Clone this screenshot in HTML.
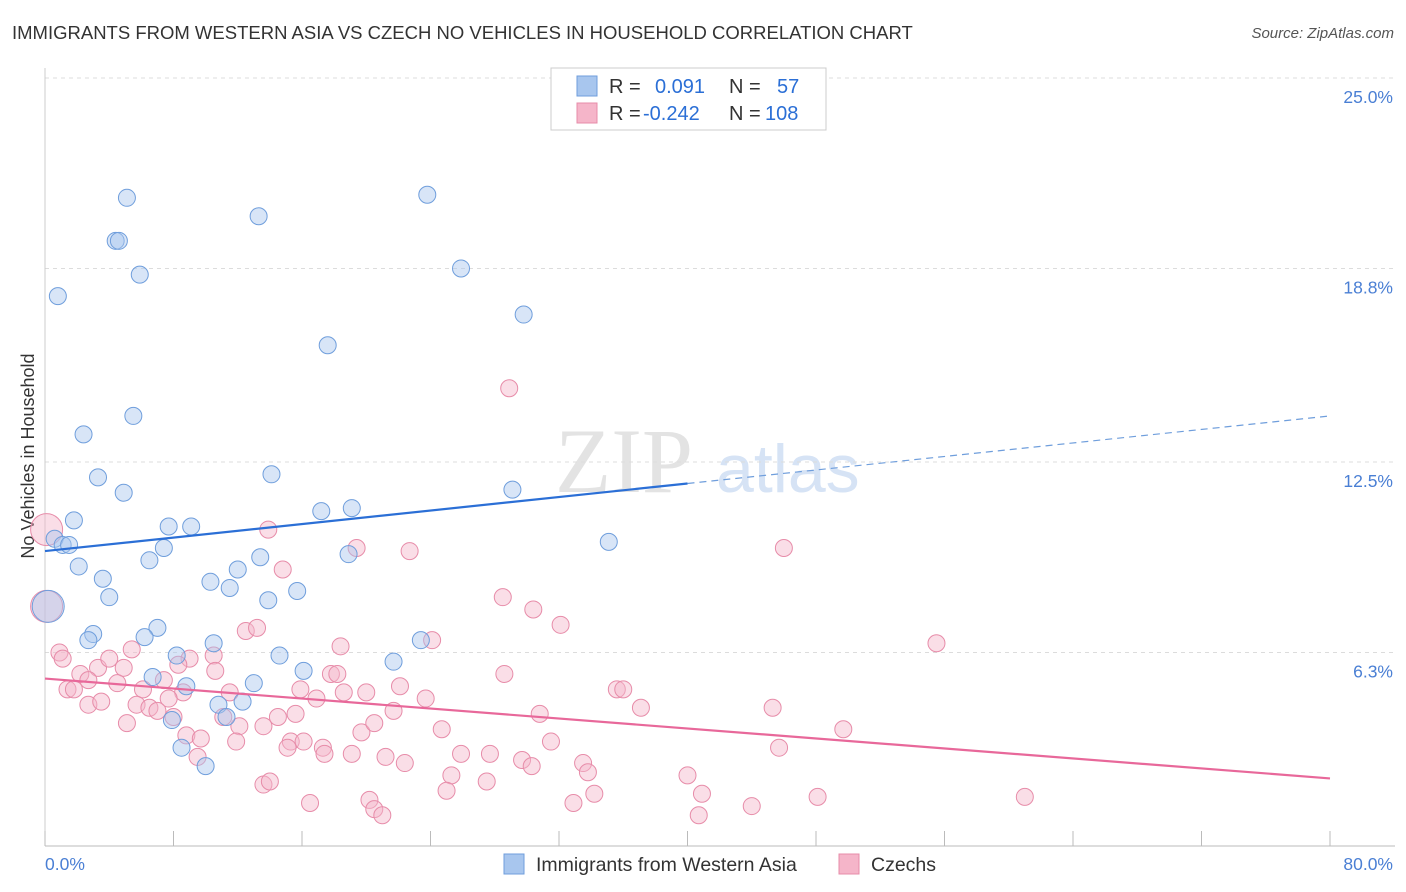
<!DOCTYPE html>
<html><head><meta charset="utf-8">
<style>
body{margin:0;background:#fff;font-family:"Liberation Sans",sans-serif;}
#wrap{position:relative;width:1406px;height:892px;overflow:hidden;}
.title{position:absolute;left:12px;top:22px;font-size:18.5px;color:#333;}
.source{position:absolute;right:12px;top:25px;font-size:15px;color:#555;font-style:italic;}
</style></head>
<body>
<div id="wrap">
<div class="title">IMMIGRANTS FROM WESTERN ASIA VS CZECH NO VEHICLES IN HOUSEHOLD CORRELATION CHART</div>
<div class="source">Source: ZipAtlas.com</div>
<svg id="svg" width="1406" height="892" style="position:absolute;left:0;top:0"></svg>
</div>
<script>
const yTicks=[6.3,12.5,18.8,25.0];
const yTickLabels=["6.3%","12.5%","18.8%","25.0%"];
const xTickLabels=["0.0%","80.0%"];
const blueX=[5.1,13.3,23.8,4.4,4.6,5.9,0.8,25.9,29.8,17.6,5.5,2.4,3.3,4.9,14.1,29.1,1.8,17.2,19.1,7.7,9.1,0.6,1.1,1.5,35.1,7.4,6.5,2.1,13.4,18.9,12.0,3.6,10.3,11.5,15.7,4.0,13.9,7.0,3.0,2.7,6.2,10.5,23.4,8.2,14.6,21.7,16.1,6.7,8.8,13.0,10.8,12.3,11.3,7.9,8.5,10.0,0.2];
const blueY=[21.1,20.5,21.2,19.7,19.7,18.6,17.9,18.8,17.3,16.3,14.0,13.4,12.0,11.5,12.1,11.6,10.6,10.9,11.0,10.4,10.4,10.0,9.8,9.8,9.9,9.7,9.3,9.1,9.4,9.5,9.0,8.7,8.6,8.4,8.3,8.1,8.0,7.1,6.9,6.7,6.8,6.6,6.7,6.2,6.2,6.0,5.7,5.5,5.2,5.3,4.6,4.7,4.2,4.1,3.2,2.6,7.8];
const pinkX=[28.9,13.9,19.4,22.7,46.0,14.8,28.5,30.4,32.1,55.5,12.5,13.2,18.4,24.1,5.4,0.9,1.1,3.3,4.0,4.9,2.2,9.0,10.5,10.6,8.3,7.4,28.6,17.8,18.2,4.5,2.7,1.4,1.8,6.1,8.6,15.9,16.9,18.6,20.0,22.1,23.7,35.6,36.0,11.5,2.7,3.5,5.7,7.7,6.5,7.0,8.0,11.1,14.5,15.6,21.7,30.8,37.1,45.3,5.1,12.1,13.6,19.7,20.5,24.7,49.7,8.8,9.7,11.9,15.3,15.1,16.1,17.3,17.4,19.1,21.2,22.4,25.9,27.7,29.7,31.5,30.3,33.5,33.8,45.7,9.5,25.3,27.5,40.0,13.6,14.0,25.0,40.9,16.5,20.2,20.5,21.0,32.9,34.2,40.7,44.0,48.1,61.0,0.1,0.1];
const pinkY=[14.9,10.3,9.7,9.6,9.7,9.0,8.1,7.7,7.2,6.6,7.0,7.1,6.5,6.7,6.4,6.3,6.1,5.8,6.1,5.8,5.6,6.1,6.2,5.7,5.9,5.4,5.6,5.6,5.6,5.3,5.4,5.1,5.1,5.1,5.0,5.1,4.8,5.0,5.0,5.2,4.8,5.1,5.1,5.0,4.6,4.7,4.6,4.8,4.5,4.4,4.2,4.2,4.2,4.3,4.4,4.3,4.5,4.5,4.0,3.9,3.9,3.7,4.0,3.8,3.8,3.6,3.5,3.4,3.4,3.2,3.4,3.2,3.0,3.0,2.9,2.7,3.0,3.0,2.8,3.4,2.6,2.7,2.4,3.2,2.9,2.3,2.1,2.3,2.0,2.1,1.8,1.7,1.4,1.5,1.2,1.0,1.4,1.7,1.0,1.3,1.6,1.6,10.3,7.8];
const blueTrend=[9.6,14.0];
const pinkTrend=[5.45,2.2];
const blueSolidEnd=40;

const NS="http://www.w3.org/2000/svg";
const svg=document.getElementById('svg');
const X0=45,X1=1330,YB=846,YT=78;
function sx(v){return X0+v*(X1-X0)/80;}
function sy(v){return YB-v*(YB-YT)/25;}
function mk(t,a,p){const e=document.createElementNS(NS,t);for(const k in a)e.setAttribute(k,a[k]);(p||svg).appendChild(e);return e;}

const wm=mk('text',{x:555,y:492,'font-size':92,'font-family':'Liberation Serif',fill:'#e3e3e3'});
wm.textContent='ZIP';


const wm2=mk('text',{x:716,y:492,'font-size':68,'font-family':'Liberation Sans',fill:'#d6e3f5'});
wm2.textContent='atlas';



yTicks.forEach((t,i)=>{
  const g=mk('line',{x1:X0,x2:1395,y1:sy(t),y2:sy(t),stroke:'#dcdcdc','stroke-dasharray':'4,4'});
  
  
  const l=mk('text',{x:1393,y:sy(t)+25,'text-anchor':'end','font-size':17.5,fill:'#4a7fd4'});
  l.textContent=yTickLabels[i];
  
  
});
const ya=mk('line',{x1:X0,x2:X0,y1:68,y2:YB,stroke:'#ccc'});


const xa=mk('line',{x1:X0,x2:1395,y1:YB,y2:YB,stroke:'#bbb'});


for(let i=0;i<=10;i++){
  const tk=mk('line',{x1:sx(i*8),x2:sx(i*8),y1:831,y2:YB,stroke:'#bbb'});
  
  
}
const xl0=mk('text',{x:45,y:870,'font-size':17.5,fill:'#4a7fd4'});
xl0.textContent=xTickLabels[0];


const xl1=mk('text',{x:1393,y:870,'text-anchor':'end','font-size':17.5,fill:'#4a7fd4'});
xl1.textContent=xTickLabels[1];


const yt=mk('text',{x:34,y:456,'font-size':18,fill:'#333','text-anchor':'middle',transform:'rotate(-90 34 456)'});
yt.textContent='No Vehicles in Household';



function dots(xs,ys,fill,stroke,name){
  xs.forEach((x,i)=>{
    const big=(x<0.3);
    const c=mk('circle',{cx:sx(x),cy:sy(ys[i]),r:big?16:8.5,fill:fill,'fill-opacity':0.45,stroke:stroke,'stroke-width':1});
    
    
  });
}
dots(pinkX,pinkY,'#f5b5c9','#e78ca9','point-czechs');
dots(blueX,blueY,'#a8c6ee','#6f9edc','point-western-asia');

function lerp(a,x){return a[0]+(a[1]-a[0])*x/80;}
const bl=mk('line',{x1:sx(0),y1:sy(blueTrend[0]),x2:sx(blueSolidEnd),y2:sy(lerp(blueTrend,blueSolidEnd)),stroke:'#2b6fd6','stroke-width':2.2});


const bd=mk('line',{x1:sx(blueSolidEnd),y1:sy(lerp(blueTrend,blueSolidEnd)),x2:sx(80),y2:sy(blueTrend[1]),stroke:'#6f9edc','stroke-width':1.2,'stroke-dasharray':'7,5'});


const pl=mk('line',{x1:sx(0),y1:sy(pinkTrend[0]),x2:sx(80),y2:sy(pinkTrend[1]),stroke:'#e8689a','stroke-width':2.2});



const lg=mk('rect',{x:551,y:68,width:275,height:62,fill:'#fff',stroke:'#ccc'});


[['#a8c6ee','#6f9edc','0.091','57',86],['#f5b5c9','#e78ca9','-0.242','108',113]].forEach((r,i)=>{
  const s=mk('rect',{x:577,y:r[4]-10,width:20,height:20,fill:r[0],stroke:r[1]});
  
  
  const t=mk('text',{x:609,y:r[4]+7,'font-size':20,fill:'#333'});
  t.innerHTML='R = <tspan fill="#2b6fd6" x="'+(i?643:655)+'">'+r[2]+'</tspan><tspan x="729" fill="#333">N = </tspan><tspan fill="#2b6fd6" x="'+(i?765:777)+'">'+r[3]+'</tspan>';
  
  
});

[['#a8c6ee','#6f9edc','Immigrants from Western Asia',504],['#f5b5c9','#e78ca9','Czechs',839]].forEach(r=>{
  const s=mk('rect',{x:r[3],y:854,width:20,height:20,fill:r[0],stroke:r[1]});
  
  
  const t=mk('text',{x:r[3]+32,y:871,'font-size':19.5,fill:'#333'});
  t.textContent=r[2];
  
  
});
</script>
</body></html>
